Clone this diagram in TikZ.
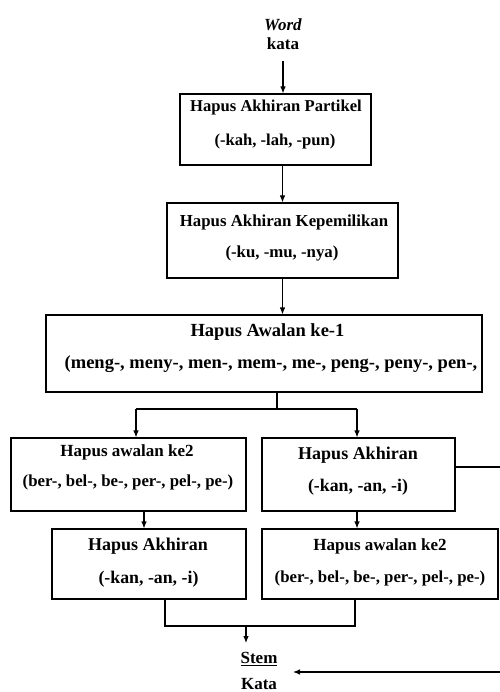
\documentclass[tikz,border=0pt]{standalone}
\usepackage{fontspec}
\setmainfont{Liberation Serif}
\usetikzlibrary{arrows.meta}
\begin{document}
\begin{tikzpicture}[x=1pt,y=-1pt,
  box/.style={draw, line width=1.1pt, inner sep=0pt},
  tx/.style={inner sep=0pt, font=\bfseries\fontsize{#1}{#1}\selectfont},
  tx/.default=17,
  ln/.style={line width=1.1pt},
  arr/.style={line width=1.1pt, -{Latex[length=7pt,width=5.5pt]}}]
\useasboundingbox (0,0) rectangle (499,692);
% top label
\node[align=center, inner xsep=0pt, inner ysep=12pt, font=\bfseries\fontsize{17}{18.5}\selectfont] (wk) at (283,34) {\textit{Word}\\kata};
% boxes
\node[box, minimum width=191pt, minimum height=71pt] (b1) at (275.5,129.5) {};
\node[box, minimum width=231pt, minimum height=75pt] (b2) at (282.5,240.5) {};
\node[box, minimum width=436pt, minimum height=77pt] (b3) at (264,353.5) {};
\node[box, minimum width=235pt, minimum height=73pt] (b4) at (128.5,474.5) {};
\node[box, minimum width=193pt, minimum height=73pt] (b5) at (358.5,474.5) {};
\node[box, minimum width=194pt, minimum height=70pt] (b6) at (149,564) {};
\node[box, minimum width=236pt, minimum height=70pt] (b7) at (380,564) {};
% texts
\node[tx=16.6] (t1a) at (276,108) {Hapus Akhiran Partikel};
\node[tx=16.6] (t1b) at (275,142) {(-kah, -lah, -pun)};
\node[tx=16.8] (t2a) at (284,222) {Hapus Akhiran Kepemilikan};
\node[tx=16.8] (t2b) at (282,253) {(-ku, -mu, -nya)};
\node[tx=18.5] (t3a) at (267.5,332) {Hapus Awalan ke-1};
\node[tx=18.5] (t3b) at (271,364) {(meng-, meny-, men-, mem-, me-, peng-, peny-, pen-,};
\node[tx=17] (t4a) at (127,452) {Hapus awalan ke2};
\node[tx=16.8] (t4b) at (128,482) {(ber-, bel-, be-, per-, pel-, pe-)};
\node[tx=18] (t5a) at (358,455) {Hapus Akhiran};
\node[tx=17.8] (t5b) at (358,487) {(-kan, -an, -i)};
\node[tx=18] (t6a) at (148,546) {Hapus Akhiran};
\node[tx=17.8] (t6b) at (148.5,579) {(-kan, -an, -i)};
\node[tx=17] (t7a) at (380,546) {Hapus awalan ke2};
\node[tx=16.8] (t7b) at (380,578) {(ber-, bel-, be-, per-, pel-, pe-)};
% result
\node[inner xsep=0pt, inner ysep=9pt, font=\bfseries\fontsize{17}{17}\selectfont] (stem) at (259,659) {\underline{Stem}};
\node[inner sep=1pt, font=\bfseries\fontsize{17}{17}\selectfont] (kata) at (259,684) {Kata};
\coordinate (tip) at (293,672);
% connectors
\draw[arr] (wk.south) -- (wk.south |- b1.north);
\draw[arr] (b1.south -| b2.north) -- (b2.north);
\draw[arr] (b2.south) -- (b2.south |- b3.north);
\coordinate (sp) at (277,409);
\coordinate (sl) at (136,409);
\coordinate (sr) at (357,409);
\draw[ln] (b3.south -| sp) -- (sp);
\draw[ln] (sl) -- (sr);
\draw[arr] (sl) -- (sl |- b4.north);
\draw[arr] (sr) -- (sr |- b5.north);
\coordinate (a46) at (144,520);
\coordinate (a57) at (357,520);
\draw[arr] (b4.south -| a46) -- (b6.north -| a46);
\draw[arr] (b5.south -| a57) -- (b7.north -| a57);
\coordinate (c6) at (165,626);
\coordinate (c7) at (355,626);
\coordinate (cm) at (246,626);
\draw[ln] (b6.south -| c6) -- (c6) -- (c7) -- (b7.south -| c7);
\draw[arr] (cm) -- (cm |- stem.north);
\coordinate (rt) at (503,467);
\draw[arr] (b5.east |- rt) -- (rt) |- (tip);
\end{tikzpicture}
\end{document}
